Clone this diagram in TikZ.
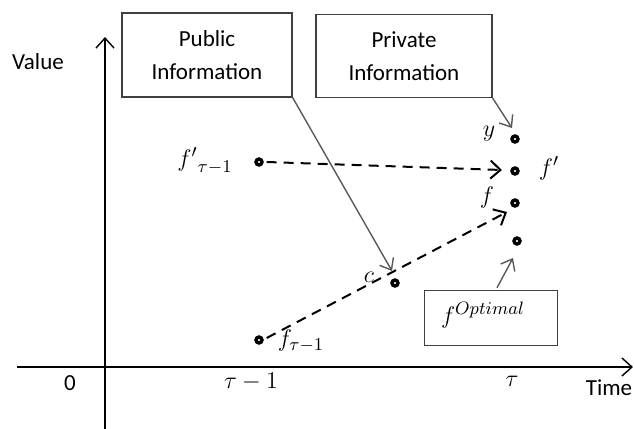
\documentclass[tikz,border=0pt]{standalone}
\usepackage{amsmath,amssymb}
\usepackage{fontspec}
\setmainfont{Carlito}
\usetikzlibrary{arrows.meta}

\tikzset{
  dot/.style={shape=circle,draw=black,line width=1.7pt,inner sep=0pt,minimum size=3pt},
  infobox/.style={shape=rectangle,draw=black!75,line width=0.7pt,align=center,
    font=\fontsize{11.5}{16.5}\selectfont},
  infoarrow/.style={draw=black!65,line width=0.7pt,-{Straight Barb[length=5pt,width=8pt]}},
  move/.style={draw=black,line width=1pt,dash pattern=on 5pt off 3.5pt,
    -{Straight Barb[length=5pt,width=9pt]}},
  lbl/.style={font=\fontsize{11.5}{13}\selectfont},
  mlbl/.style={font=\fontsize{12.5}{14}\selectfont}
}

\begin{document}
\begin{tikzpicture}[x=0.5pt,y=-0.5pt]
\useasboundingbox (0,0) rectangle (634,429);

% axes
\draw[line width=0.7pt,-{Straight Barb[length=5pt,width=9pt]}] (105,429) -- (105,37);
\draw[line width=0.7pt,-{Straight Barb[length=5pt,width=9pt]}] (17,367) -- (633,367);
\node[lbl] (value) at (38,62) {Value};
\node[lbl] (time) at (609,388) {Time};
\node[lbl] (zero) at (70,383) {0};
\node[mlbl] (tm1) at (251,382) {$\tau-1$};
\node[mlbl] (tnow) at (512,381) {$\tau$};

% boxes
\node[infobox,minimum width=85pt,minimum height=42pt] (pub) at (207,55) {Public\\Information};
\node[infobox,minimum width=88pt,minimum height=41.5pt] (priv) at (404,56) {Private\\Information};
\node[shape=rectangle,draw=black!75,line width=0.7pt,minimum width=66.5pt,minimum height=27.5pt] (optbox) at (491,318) {};
\node[mlbl] (optlbl) at (483,315) {$f^{Optimal}$};

% points
\node[dot] (fprev) at (259,162) {};
\node[dot] (fold) at (259,340) {};
\node[dot] (c) at (395,283) {};
\node[dot] (y) at (515,139) {};
\node[dot] (fp) at (515,171) {};
\node[dot] (f) at (515,203) {};
\node[dot] (fopt) at (517,241) {};

\node[mlbl] at (205,161) {${f'}_{\tau-1}$};
\node[mlbl] at (301,341) {$f_{\tau-1}$};
\node[mlbl] at (369,277) {$c$};
\node[mlbl] at (489,134) {$y$};
\node[mlbl] at (549,168) {$f'$};
\node[mlbl] at (487,197) {$f$};

% information
\coordinate (cin) at (392,271);
\coordinate (yin) at (512,128);
\coordinate (optin) at (513,258);
\draw[infoarrow] (pub.south east) -- (cin);
\draw[infoarrow] (priv.south east) -- (yin);
\draw[infoarrow] (optbox.north) ++(6,-2) -- (optin);

% updates
\coordinate (fpin) at (502,170);
\coordinate (fin) at (507,212);
\draw[move] (fprev.east) ++(3,0) -- (fpin);
\draw[move] (fold.east) ++(3,-2) -- (fin);
\end{tikzpicture}
\end{document}
